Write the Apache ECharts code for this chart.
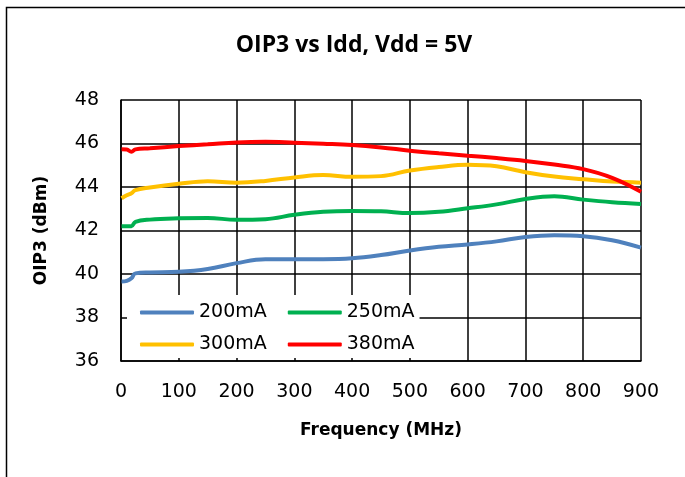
<!DOCTYPE html>
<html>
<head>
<meta charset="utf-8">
<script src="https://cdn.jsdelivr.net/npm/echarts@6/dist/echarts.min.js"></script>
<style>
  html, body { margin: 0; padding: 0; background: #fff; }
  #chart { width: 685px; height: 477px; }
</style>
</head>
<body>
<div id="chart"></div>
<script>
// frequency points (MHz)
var freq = [1, 10, 18, 25, 50, 100, 150, 200, 250, 300, 350, 400, 450, 500, 550, 600, 650, 700, 750, 800, 850, 900];
// OIP3 (dBm) per bias current
var oip200 = [39.65, 39.68, 39.8, 40.03, 40.07, 40.1, 40.23, 40.5, 40.68, 40.68, 40.68, 40.72, 40.87, 41.08, 41.25, 41.36, 41.5, 41.7, 41.78, 41.74, 41.55, 41.21];
var oip250 = [42.2, 42.2, 42.2, 42.4, 42.5, 42.56, 42.58, 42.49, 42.52, 42.72, 42.86, 42.9, 42.88, 42.8, 42.86, 43.02, 43.2, 43.45, 43.57, 43.42, 43.3, 43.22];
var oip300 = [43.48, 43.62, 43.71, 43.86, 43.98, 44.15, 44.27, 44.2, 44.28, 44.44, 44.55, 44.47, 44.5, 44.76, 44.92, 45.02, 44.95, 44.68, 44.48, 44.36, 44.25, 44.2];
var oip380 = [45.73, 45.72, 45.62, 45.73, 45.78, 45.88, 45.96, 46.05, 46.08, 46.04, 45.99, 45.93, 45.82, 45.67, 45.55, 45.44, 45.33, 45.2, 45.03, 44.82, 44.42, 43.78];

var seriesNames = ["200mA", "250mA", "300mA", "380mA"];
var seriesColors = ["#4f81bd", "#00b050", "#ffc000", "#ff0000"];
var seriesData = [oip200, oip250, oip300, oip380];

function pairs(ys) {
  return freq.map(function (f, i) { return [f, ys[i]]; });
}

var txt = "DejaVu Sans";

// one legend per row so the horizontal and vertical gaps can differ
function legendRow(names, top, padding) {
  return {
    left: 127,
    top: top,
    orient: "horizontal",
    padding: padding,
    itemGap: 21,
    itemWidth: 54,
    itemHeight: 4,
    icon: "roundRect",
    backgroundColor: "#fff",
    selectedMode: false,
    textStyle: { fontFamily: txt, fontSize: 19, color: "#000" },
    data: names
  };
}

var chart = echarts.init(document.getElementById("chart"));
chart.setOption({
  animation: false,
  backgroundColor: "#fff",
  title: {
    text: "OIP3 vs Idd, Vdd = 5V",
    left: 349,
    textAlign: "center",
    top: 29,
    textStyle: { fontFamily: "Open Sans", fontWeight: "bold", fontSize: 23, color: "#000" }
  },
  graphic: [
    {
      type: "rect",
      shape: { x: 6.5, y: 7.5, width: 720, height: 520 },
      style: { fill: "none", stroke: "#000", lineWidth: 1.5 },
      silent: true
    }
  ],
  legend: [
    legendRow(["200mA", "250mA"], 295, [8, 5, 5, 13]),
    legendRow(["300mA", "380mA"], 327, [8, 5, 4, 13])
  ],
  grid: { left: 121, right: 44, top: 100, bottom: 116 },
  xAxis: {
    type: "value",
    min: 0,
    max: 900,
    interval: 100,
    name: "Frequency (MHz)",
    nameLocation: "middle",
    nameGap: 61,
    nameTextStyle: { fontFamily: txt, fontWeight: "bold", fontSize: 17, color: "#000" },
    axisLine: { lineStyle: { color: "#000", width: 1.5 } },
    axisTick: { show: false },
    axisLabel: { fontFamily: txt, fontSize: 19, color: "#000", margin: 22 },
    splitLine: { show: true, lineStyle: { color: "#000", width: 1.5 } }
  },
  yAxis: {
    type: "value",
    min: 36,
    max: 48,
    interval: 2,
    name: "OIP3 (dBm)",
    nameLocation: "middle",
    nameGap: 71,
    nameTextStyle: { fontFamily: txt, fontWeight: "bold", fontSize: 17, color: "#000" },
    axisLine: { show: true, lineStyle: { color: "#000", width: 1.5 } },
    axisTick: { show: false },
    axisLabel: { fontFamily: txt, fontSize: 19, color: "#000", margin: 22 },
    splitLine: { show: true, lineStyle: { color: "#000", width: 1.5 } }
  },
  series: seriesNames.map(function (name, i) {
    return {
      name: name,
      type: "line",
      smooth: 0.4,
      symbol: "none",
      color: seriesColors[i],
      lineStyle: { color: seriesColors[i], width: 4 },
      data: pairs(seriesData[i])
    };
  })
});
</script>
</body>
</html>
